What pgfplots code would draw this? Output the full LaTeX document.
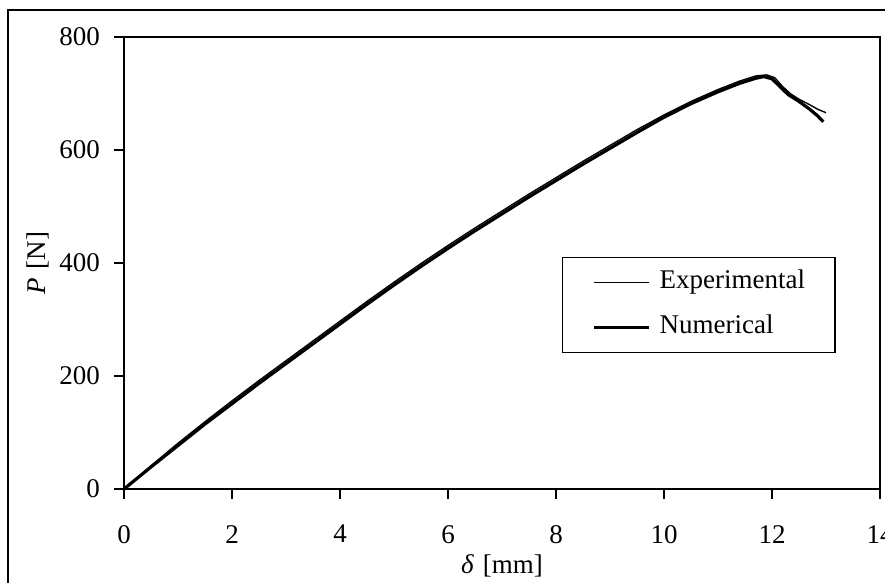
\documentclass[border=0pt]{standalone}
\usepackage{fontspec}
\setmainfont{Liberation Serif}
\usepackage{pgfplots}
\pgfplotsset{compat=1.18}
\newcommand\bigf{\fontsize{27}{32}\selectfont}
\begin{document}
\bigf
\begin{tikzpicture}[x=1pt,y=1pt]
\useasboundingbox (0,0) rectangle (885,582);
\draw[line width=1.3pt] (8,572) rectangle (920,-30);
\begin{axis}[
  at={(124pt,93pt)}, anchor=south west,
  scale only axis, width=756pt, height=452pt,
  xmin=0, xmax=14, ymin=0, ymax=800,
  xtick={0,2,...,14}, ytick={0,200,...,800},
  xtick pos=left, ytick pos=left,
  tick align=outside, major tick length=10pt,
  axis line style={line width=1.3pt},
  tick style={line width=1.3pt, black},
  xticklabel={\pgfmathprintnumber[assume math mode=true]{\tick}},
  yticklabel={\pgfmathprintnumber[assume math mode=true]{\tick}},
  xticklabel style={font=\bigf, yshift=-17pt},
  yticklabel style={font=\bigf, xshift=-5pt},
  xlabel={\bigf\textit{δ}\,\,[mm]},
  ylabel={\bigf\textit{P}\,\,[N]},
  xlabel style={font=\bigf, at={(axis description cs:0.5,-0.170)}, anchor=center},
  ylabel style={font=\bigf, at={(axis description cs:-0.1138,0.5)}, anchor=center},
  legend cell align=left,
  legend image code/.code={\path (0pt,0pt) -- (55pt,0pt); \draw[#1] (12pt,0pt) -- (55pt,0pt);},
  legend style={at={(axis description cs:0.579,0.513)}, anchor=north west,
    draw=black, line width=1.3pt, inner xsep=30pt, inner ysep=13pt,
    /tikz/row sep=21pt, /tikz/column sep=9pt,
    font=\bigf,
    nodes={inner sep=0pt, text height=18pt, text depth=6pt}},
]
\addplot[black, line width=1.4pt] coordinates {
(0,0) (0.5,41) (1,81) (1.5,119) (2,156) (2.5,192) (3,227) (3.5,262) (4,297)
(4.5,332) (5,366) (5.5,399) (6,431) (6.5,462) (7,492) (7.5,522) (8,551)
(8.5,580) (9,608) (9.5,636) (10,662) (10.5,686) (11,707) (11.4,722)
(11.7,731) (11.9,733) (12.05,728) (12.2,712) (12.35,699) (12.5,690)
(12.7,680) (12.85,672) (13.0,666)
};
\addlegendentry{Experimental}
\addplot[black, line width=3.2pt] coordinates {
(0,0) (0.5,39) (1,77) (1.5,115) (2,151) (2.5,187) (3,222) (3.5,257) (4,292)
(4.5,327) (5,361) (5.5,394) (6,426) (6.5,457) (7,487) (7.5,517) (8,546)
(8.5,575) (9,603) (9.5,631) (10,658) (10.5,682) (11,703) (11.4,718)
(11.7,727) (11.85,730) (12.0,726) (12.15,712) (12.3,698) (12.5,686)
(12.7,672) (12.85,660) (12.95,650)
};
\addlegendentry{Numerical}
\end{axis}
\end{tikzpicture}
\end{document}
